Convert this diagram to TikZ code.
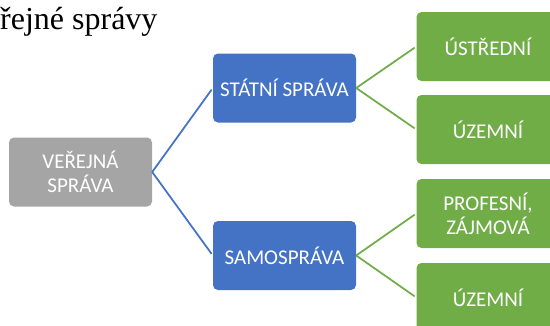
\documentclass[tikz,border=0pt]{standalone}
\usepackage{fontspec}
\setmainfont{Liberation Serif}
\newfontfamily\boxfont{Carlito}
\usetikzlibrary{positioning}
\definecolor{vsgray} {HTML}{A5A5A5}
\definecolor{vsblue} {HTML}{4472C4}
\definecolor{vsgreen}{HTML}{70AD47}

\begin{document}
\begin{tikzpicture}[x=1pt,y=-1pt,
          box/.style={rounded corners=5pt,minimum width=143pt,minimum height=69pt,inner sep=2pt,
                      align=center,text=white,font=\boxfont\fontsize{21}{24}\selectfont},
          root/.style={box,fill=vsgray},
          branch/.style={box,fill=vsblue},
          leaf/.style={box,fill=vsgreen},
          link/.style={line width=1.75pt,shorten >=2pt}
      ]
        \clip (0,0) rectangle (550,325);
        \node[anchor=base west,inner sep=0,font=\fontsize{32}{36}\selectfont] (title) at (0,29) {řejné správy};
        \node[root]   (vs)   at (80.5,172)   {VEŘEJNÁ\\SPRÁVA};
        \node[branch] (ss)   at (284.5,88)   {STÁTNÍ SPRÁVA};
        \node[branch] (sam)  at (284.5,255.5) {SAMOSPRÁVA};
        \node[leaf]   (ust)  at (488,46.5)   {ÚSTŘEDNÍ};
        \node[leaf]   (uz1)  at (488,129.5)  {ÚZEMNÍ};
        \node[leaf]   (prof) at (488,213.5)  {PROFESNÍ,\\ZÁJMOVÁ};
        \node[leaf]   (uz2)  at (488,297.5)  {ÚZEMNÍ};
        \draw[link,vsblue]  (vs.east)  -- (ss.west);
        \draw[link,vsblue]  (vs.east)  -- (sam.west);
        \draw[link,vsgreen] (ss.east)  -- (ust.west);
        \draw[link,vsgreen] (ss.east)  -- (uz1.west);
        \draw[link,vsgreen] (sam.east) -- (prof.west);
        \draw[link,vsgreen] (sam.east) -- (uz2.west);
      \end{tikzpicture}
\end{document}
